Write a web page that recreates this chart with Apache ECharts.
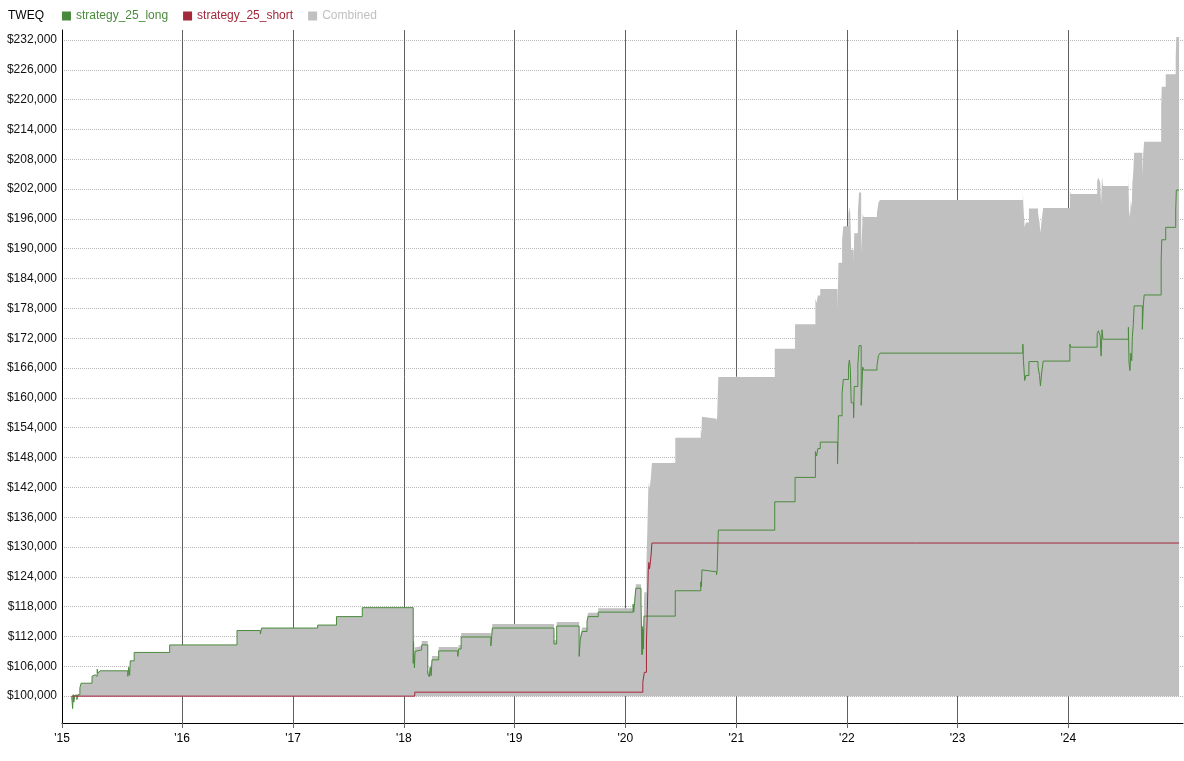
<!DOCTYPE html>
<html>
<head>
<meta charset="utf-8">
<script src="https://cdn.jsdelivr.net/npm/echarts@6/dist/echarts.min.js"></script>
<style>
html,body{margin:0;padding:0;background:#fff;}
#chart{width:1184px;height:761px;}
</style>
</head>
<body>
<div id="chart"></div>
<script>
// ---- data ----
const seriesNames = ['strategy_25_long', 'strategy_25_short', 'Combined'];
const baseEquity = 100000;

const longData = [
  ['2015-01-02',100000],['2015-01-05',97500],['2015-01-07',100300],['2015-01-09',98800],
  ['2015-01-12',100200],['2015-01-19',99300],['2015-01-22',100300],['2015-01-29',101700],
  ['2015-02-02',102600],['2015-03-10',104000],['2015-03-13',104300],['2015-03-20',104000],
  ['2015-03-27',105400],['2015-03-30',104600],['2015-04-05',105100],['2015-07-06',104000],
  ['2015-07-09',105800],['2015-07-12',104200],['2015-07-14',107100],['2015-07-27',108800],
  ['2015-11-21',110300],['2016-06-30',113200],['2016-09-15',112500],['2016-09-19',113700],
  ['2017-03-23',114300],['2017-05-24',116000],['2017-08-17',117800],
  ['2018-02-01',106600],['2018-02-02',111000],['2018-02-05',105700],['2018-02-07',109000],
  ['2018-02-12',109300],['2018-03-01',110300],['2018-03-21',104500],['2018-03-26',103900],
  ['2018-03-29',105800],['2018-04-01',104100],['2018-04-04',107300],['2018-04-26',109100],
  ['2018-06-28',108000],['2018-07-01',109500],['2018-07-09',111900],['2018-10-15',110100],
  ['2018-10-20',113700],['2019-05-11',110500],['2019-05-20',114100],['2019-08-02',108000],
  ['2019-08-06',111500],['2019-08-12',113000],['2019-08-28',115100],['2019-09-01',116000],
  ['2019-10-04',116900],['2020-01-27',118500],['2020-01-29',116900],['2020-02-01',119000],
  ['2020-02-05',121700],['2020-02-22',119000],['2020-02-25',108300],['2020-02-26',114000],
  ['2020-02-27',108500],['2020-02-29',113500],['2020-03-01',109500],['2020-03-03',116100],
  ['2020-06-14',121200],['2020-09-06',123000],['2020-09-08',122000],['2020-09-10',125400],
  ['2020-09-12',125000],['2020-10-28',124400],['2020-10-30',125400],['2020-11-03',133400],
  ['2021-05-08',139100],['2021-07-14',144000],['2021-09-19',149200],['2021-09-23',148300],
  ['2021-09-27',149800],['2021-10-05',151100],['2021-12-01',146700],['2021-12-04',156400],
  ['2021-12-16',160900],['2021-12-20',163700],['2022-01-06',166200],['2022-01-09',167600],
  ['2022-01-12',166200],['2022-01-15',159000],['2022-01-23',156000],['2022-01-25',162300],
  ['2022-02-06',166600],['2022-02-10',170500],['2022-02-17',158500],['2022-02-22',166200],
  ['2022-02-25',165600],['2022-04-10',166500],['2022-04-15',168500],['2022-04-20',169000],
  ['2023-08-04',170800],['2023-08-06',167500],['2023-08-10',163500],['2023-08-14',164500],
  ['2023-08-24',167300],['2023-09-23',166300],['2023-09-28',164500],['2023-10-01',162400],
  ['2023-10-05',165000],['2023-10-10',167400],['2024-01-06',170800],['2024-01-09',170200],
  ['2024-04-05',172900],['2024-04-09',173500],['2024-04-15',172500],['2024-04-18',168400],
  ['2024-04-21',173700],['2024-04-24',171800],['2024-07-17',174200],['2024-07-19',167000],
  ['2024-07-22',165500],['2024-07-25',169000],['2024-07-28',167500],['2024-07-30',172300],
  ['2024-08-02',174600],['2024-08-05',178500],['2024-09-01',173800],['2024-09-04',178500],
  ['2024-09-07',180700],['2024-11-02',187700],['2024-11-04',191800],['2024-11-17',194300],
  ['2024-12-20',197800],['2024-12-22',201800],['2024-12-31',201800]
];

const shortData = [
  ['2015-01-02',100000],['2018-02-06',100800],['2020-02-28',102800],['2020-03-04',104800],
  ['2020-03-11',110900],['2020-03-14',117400],['2020-03-17',125400],['2020-03-19',126900],
  ['2020-03-21',125600],['2020-03-23',126500],['2020-03-26',128200],['2020-03-29',130800],
  ['2024-12-31',130800]
];

const xMinDate = '2014-12-01', xMaxDate = '2025-01-13';
const xTickDates = ['2014-12-01','2016-01-01','2017-01-01','2018-01-01','2019-01-01',
  '2020-01-01','2021-01-01','2022-01-01','2023-01-01','2024-01-01'];
const xTickLabels = ["'15","'16","'17","'18","'19","'20","'21","'22","'23","'24"];
const yTickValues = [100000,106000,112000,118000,124000,130000,136000,142000,148000,154000,
  160000,166000,172000,178000,184000,190000,196000,202000,208000,214000,220000,226000,232000];

// ---- combined equity: sum of both step curves' gains on the base ----
function valueAt(data, d) {
  let v = data[0][1];
  for (const p of data) { if (p[0] <= d) v = p[1]; else break; }
  return v;
}
const allDates = Array.from(new Set(longData.map(p => p[0]).concat(shortData.map(p => p[0])))).sort();
const combinedData = allDates.map(d => [d, valueAt(longData, d) + valueAt(shortData, d) - baseEquity]);

const ts = s => Date.UTC(+s.slice(0, 4), +s.slice(5, 7) - 1, +s.slice(8, 10));
const toXY = arr => arr.map(p => [ts(p[0]), p[1]]);
const xTickTs = xTickDates.map(ts);

const FONT = '"Liberation Sans", Arial, sans-serif';
const colLong = '#4a8a3c', colShort = '#a3283a', colComb = '#c0c0c0';

const chart = echarts.init(document.getElementById('chart'), null, {renderer: 'canvas'});
chart.setOption({
  animation: false,
  backgroundColor: '#fff',
  textStyle: {fontFamily: FONT},
  title: {
    text: 'TWEQ', left: 8, top: 10, padding: 0,
    textStyle: {fontSize: 12, fontWeight: 'normal', color: '#000', fontFamily: FONT}
  },
  legend: {
    left: 62, top: 10, padding: 0, itemGap: 15, itemWidth: 9, itemHeight: 9, icon: 'rect',
    textStyle: {fontSize: 12, fontFamily: FONT},
    data: [
      {name: seriesNames[0], textStyle: {color: colLong}},
      {name: seriesNames[1], textStyle: {color: colShort}},
      {name: seriesNames[2], textStyle: {color: colComb}}
    ]
  },
  grid: {left: 62, right: 1, top: 30, bottom: 38, containLabel: false},
  xAxis: {
    type: 'value',
    min: ts(xMinDate),
    max: ts(xMaxDate),
    axisLine: {lineStyle: {color: '#000', width: 1}},
    axisTick: {show: true, length: 5, lineStyle: {color: '#666'}, customValues: xTickTs},
    axisLabel: {
      customValues: xTickTs, color: '#000', fontSize: 12, fontFamily: FONT, margin: 10,
      formatter: function (v) {
        let best = 0, bd = Infinity;
        xTickTs.forEach((t, i) => { const dd = Math.abs(t - v); if (dd < bd) { bd = dd; best = i; } });
        return xTickLabels[best];
      }
    },
    splitLine: {show: true, lineStyle: {color: '#606060', width: 1, type: 'solid'}}
  },
  yAxis: {
    type: 'value',
    min: 94600,
    max: 234000,
    axisLine: {show: true, lineStyle: {color: '#000', width: 1}},
    axisTick: {show: false, customValues: yTickValues},
    axisLabel: {
      customValues: yTickValues, color: '#111', fontSize: 12, fontFamily: FONT, margin: 5,
      formatter: v => '$' + Number(v).toLocaleString('en-US')
    },
    splitLine: {show: true, lineStyle: {color: '#b8b8b8', width: 1, type: 'dotted'}}
  },
  series: [
    {
      name: seriesNames[2], type: 'line', step: 'end', data: toXY(combinedData),
      showSymbol: false, symbol: 'none', color: colComb,
      lineStyle: {width: 0, color: colComb},
      areaStyle: {color: colComb, opacity: 1, origin: baseEquity},
      z: 1
    },
    {
      name: seriesNames[0], type: 'line', step: 'end', data: toXY(longData),
      showSymbol: false, symbol: 'none', color: colLong,
      lineStyle: {width: 1, color: colLong}, z: 3
    },
    {
      name: seriesNames[1], type: 'line', step: 'end', data: toXY(shortData),
      showSymbol: false, symbol: 'none', color: colShort,
      lineStyle: {width: 1, color: colShort}, z: 4
    }
  ]
});
</script>
</body>
</html>
